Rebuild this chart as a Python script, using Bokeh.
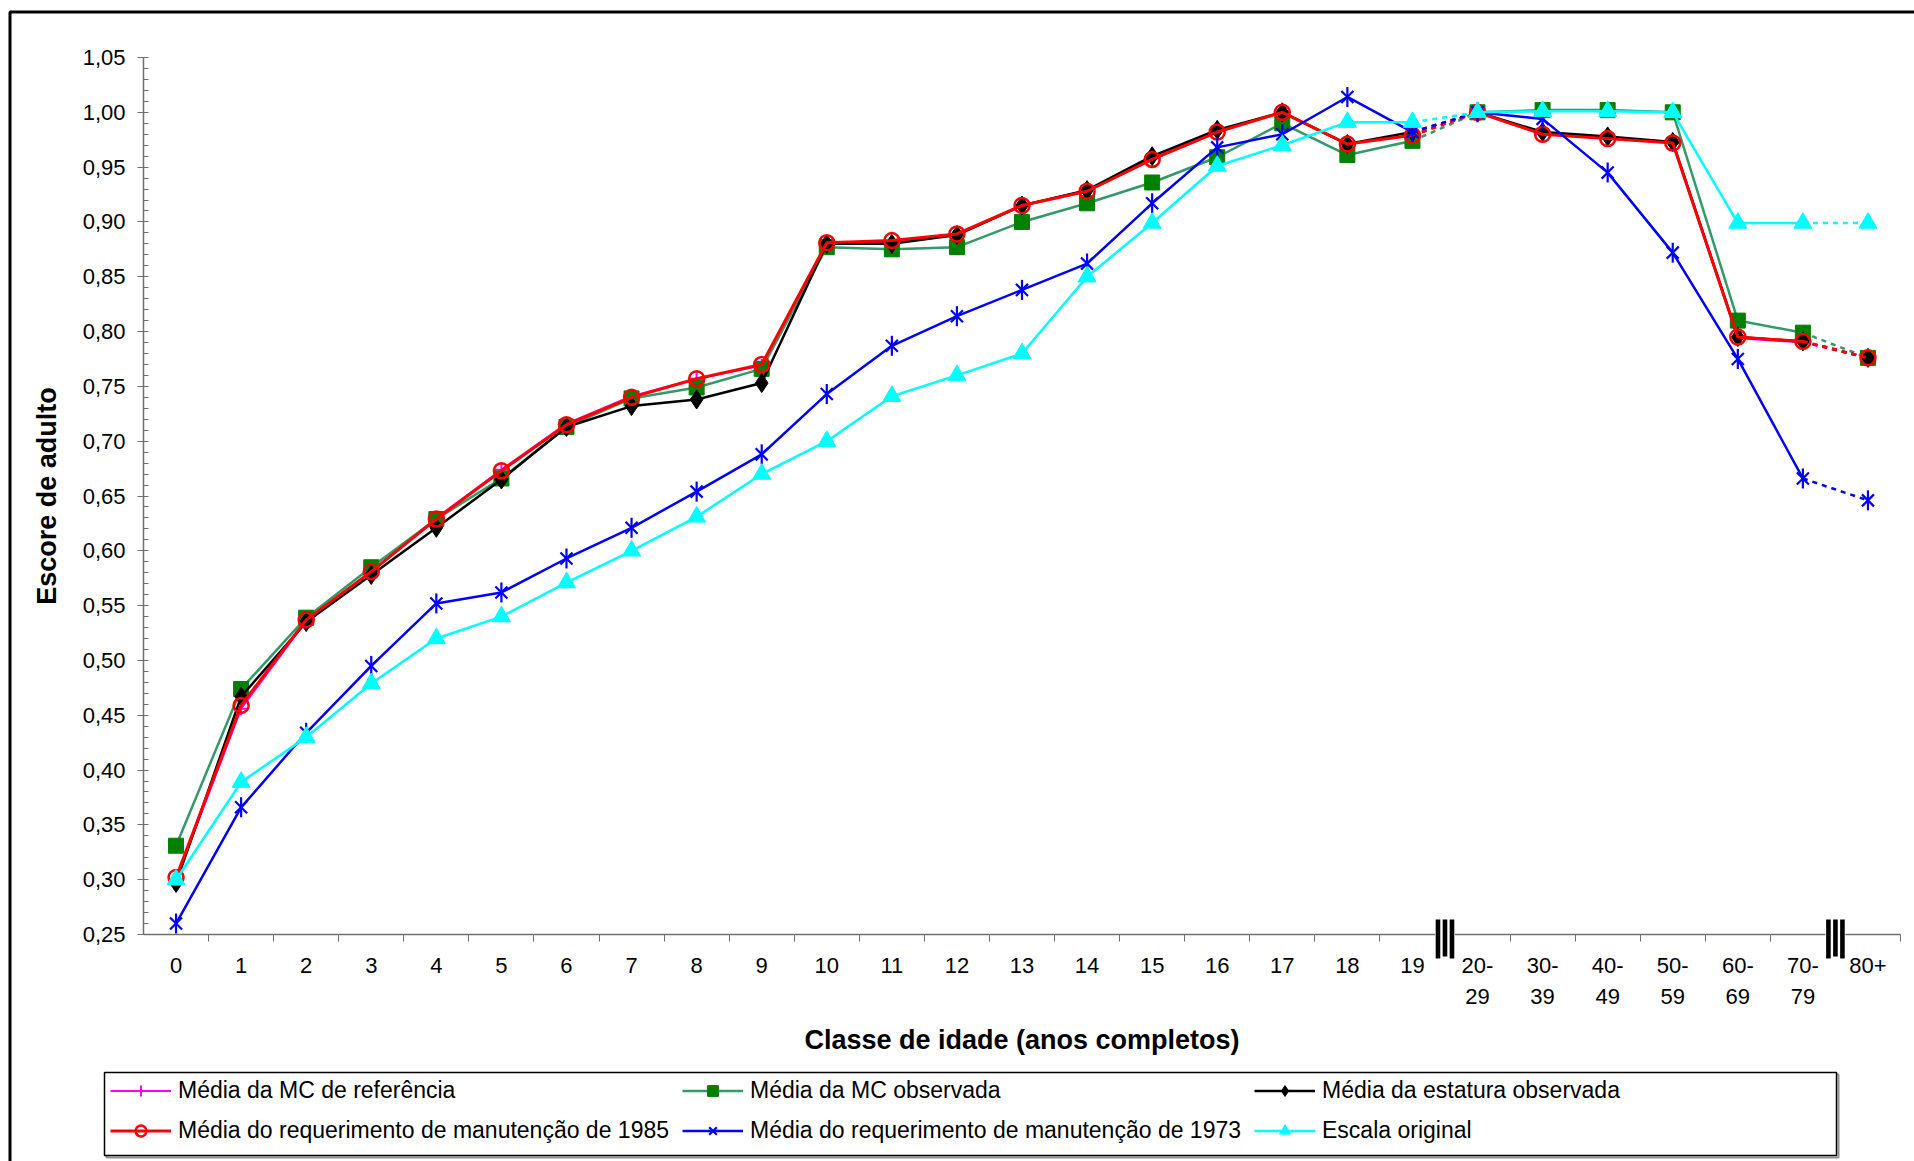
from bokeh.plotting import figure
from bokeh.models import (Range1d, FixedTicker, CustomJSTickFormatter, Legend,
                          LegendItem, BoxAnnotation)
from bokeh.embed import file_html
from bokeh.resources import INLINE
import numpy as np

# ---------------- data ----------------
x_labels = ["0", "1", "2", "3", "4", "5", "6", "7", "8", "9", "10", "11", "12",
            "13", "14", "15", "16", "17", "18", "19", "20-\n29", "30-\n39",
            "40-\n49", "50-\n59", "60-\n69", "70-\n79", "80+"]

mc_referencia = [0.300, 0.456, 0.536, 0.581, 0.630, 0.674, 0.716, 0.741, 0.757,
                 0.769, 0.880, 0.882, 0.889, 0.915, 0.929, 0.958, 0.983, 1.000,
                 0.971, 0.979, 1.000, 0.980, 0.976, 0.972, 0.794, 0.790, 0.776]
mc_observada = [0.331, 0.474, 0.539, 0.585, 0.629, 0.666, 0.713, 0.739, 0.749,
                0.766, 0.877, 0.875, 0.877, 0.900, 0.917, 0.936, 0.959, 0.990,
                0.961, 0.974, 1.000, 1.002, 1.002, 1.000, 0.810, 0.799, 0.776]
estatura_observada = [0.297, 0.467, 0.535, 0.578, 0.621, 0.665, 0.713, 0.732,
                      0.738, 0.753, 0.880, 0.880, 0.888, 0.915, 0.929, 0.960,
                      0.984, 1.000, 0.971, 0.982, 1.000, 0.982, 0.978, 0.973,
                      0.795, 0.791, 0.776]
req_1985 = [0.302, 0.459, 0.537, 0.581, 0.629, 0.673, 0.715, 0.740, 0.757,
            0.770, 0.881, 0.883, 0.889, 0.915, 0.928, 0.957, 0.982, 1.000,
            0.971, 0.979, 1.000, 0.980, 0.976, 0.972, 0.795, 0.791, 0.776]
req_1973 = [0.260, 0.366, 0.434, 0.495, 0.552, 0.562, 0.593, 0.621, 0.654,
            0.688, 0.743, 0.787, 0.814, 0.838, 0.862, 0.917, 0.968, 0.980,
            1.014, 0.982, 1.000, 0.994, 0.945, 0.872, 0.775, 0.666, 0.646]
escala_original = [0.300, 0.389, 0.430, 0.479, 0.520, 0.540, 0.571, 0.600,
                   0.631, 0.670, 0.700, 0.741, 0.760, 0.780, 0.850, 0.899,
                   0.951, 0.970, 0.991, 0.991, 1.000, 1.001, 1.001, 1.000,
                   0.899, 0.899, 0.899]

series_names = ["Média da MC de referência", "Média da MC observada",
                "Média da estatura observada",
                "Média do requerimento de manutenção de 1985",
                "Média do requerimento de manutenção de 1973",
                "Escala original"]

y_tick_labels = ["0,25", "0,30", "0,35", "0,40", "0,45", "0,50", "0,55", "0,60",
                 "0,65", "0,70", "0,75", "0,80", "0,85", "0,90", "0,95", "1,00",
                 "1,05"]

# ---------------- layout constants ----------------
W, H = 1914, 1161
FL, FR, FT, FB = 143, 1900, 57, 934          # plot area in pixels
X0, X1 = -0.5, len(x_labels) - 0.5
Y0, Y1 = 0.25, 1.05
FONT = "Liberation Sans"


def px2x(px):
    return X0 + (px - FL) * (X1 - X0) / (FR - FL)


def px2y(py):
    return Y1 - (py - FT) * (Y1 - Y0) / (FB - FT)


# the frame covers the whole canvas; axes are pinned at the plot-area edges
p = figure(width=W, height=H, output_backend="svg", toolbar_location=None,
           x_range=Range1d(px2x(0), px2x(W)), y_range=Range1d(px2y(H), px2y(0)),
           min_border_left=0, min_border_right=0,
           min_border_top=0, min_border_bottom=0)
p.outline_line_color = None
p.xgrid.visible = False
p.ygrid.visible = False
p.background_fill_color = "white"
p.border_fill_color = "white"

# ---------------- axes ----------------
AX_COL = "#707070"
y_vals = [float(s.replace(",", ".")) for s in y_tick_labels]
p.yaxis.fixed_location = X0
p.yaxis.bounds = (Y0, Y1)
p.yaxis.ticker = FixedTicker(ticks=y_vals,
                             minor_ticks=list(np.round(np.arange(0.25, 1.0501, 0.01), 2)))
p.yaxis.formatter = CustomJSTickFormatter(
    args=dict(vals=y_vals, labs=y_tick_labels),
    code="for (let i = 0; i < vals.length; i++) { if (Math.abs(vals[i] - tick) < 1e-9) return labs[i]; } return '';")
p.yaxis.axis_line_color = AX_COL
p.yaxis.axis_line_width = 1.5
p.yaxis.major_tick_line_color = AX_COL
p.yaxis.minor_tick_line_color = AX_COL
p.yaxis.major_tick_out = 6
p.yaxis.major_tick_in = 4
p.yaxis.minor_tick_out = 0
p.yaxis.minor_tick_in = 5
p.yaxis.major_label_standoff = 12
p.yaxis.major_label_text_font = FONT
p.yaxis.major_label_text_font_size = "22px"
p.yaxis.major_label_text_color = "black"
p.yaxis.axis_label = "Escore de adulto"
p.yaxis.axis_label_text_font = FONT
p.yaxis.axis_label_text_font_size = "27px"
p.yaxis.axis_label_text_font_style = "bold"
p.yaxis.axis_label_text_color = "black"
p.yaxis.axis_label_standoff = 18

n = len(x_labels)
breaks = [19.5, 25.5]
x_bounds = [i + 0.5 for i in range(n) if (i + 0.5) not in breaks]
p.xaxis.fixed_location = Y0
p.xaxis.bounds = (X0, X1)
p.xaxis.ticker = FixedTicker(ticks=list(range(n)), minor_ticks=x_bounds)
p.xaxis.formatter = CustomJSTickFormatter(args=dict(labs=x_labels),
                                          code="return labs[Math.round(tick)];")
p.xaxis.axis_line_color = AX_COL
p.xaxis.axis_line_width = 1.5
p.xaxis.major_tick_line_color = None
p.xaxis.major_tick_out = 0
p.xaxis.major_tick_in = 0
p.xaxis.minor_tick_line_color = AX_COL
p.xaxis.minor_tick_out = 7
p.xaxis.minor_tick_in = 0
p.xaxis.major_label_standoff = 11
p.xaxis.major_label_text_font = FONT
p.xaxis.major_label_text_font_size = "22px"
p.xaxis.major_label_text_color = "black"
p.xaxis.major_label_text_line_height = 1.25
p.xaxis.axis_label = "Classe de idade (anos completos)"
p.xaxis.axis_label_text_font = FONT
p.xaxis.axis_label_text_font_size = "27px"
p.xaxis.axis_label_text_font_style = "bold"
p.xaxis.axis_label_text_color = "black"
p.xaxis.axis_label_standoff = 13

# ---------------- series ----------------
xs = list(range(n))
segments = [(0, 20, None), (19, 21, "5 5"), (20, 26, None), (25, 27, "5 5")]

styles = [
    dict(data=mc_referencia, line="#FF00FF", lw=2, markers=[("cross", 13, 0)],
         fill="#FF00FF", mline="#FF00FF", mlw=2),
    dict(data=mc_observada, line="#339966", lw=2.5, markers=[("square", 15, 0)],
         fill="#008000", mline="#008000", mlw=1),
    dict(data=estatura_observada, line="black", lw=2.5, markers=[("diamond", 19, 0)],
         fill="black", mline="black", mlw=1),
    dict(data=req_1985, line="#FF0000", lw=3, markers=[("circle", 15, 0)],
         fill=None, mline="#FF0000", mlw=2.5),
    dict(data=req_1973, line="#0000FF", lw=2.5,
         markers=[("x", 17, 0), ("dash", 20, np.pi / 2)],
         fill=None, mline="#0000FF", mlw=2.2),
    dict(data=escala_original, line="#00FFFF", lw=2.5, markers=[("triangle", 18, 0)],
         fill="#00FFFF", mline="#00FFFF", mlw=1),
]

items = []
for name, st in zip(series_names, styles):
    ys = st["data"]
    rends = []
    for a, b, dash in segments:
        kw = dict(line_color=st["line"], line_width=st["lw"])
        if dash:
            kw["line_dash"] = dash
        r = p.line(xs[a:b], ys[a:b], **kw)
        if not rends:
            rends.append(r)
    for mk, sz, ang in st["markers"]:
        sc = p.scatter(xs, ys, marker=mk, size=sz, angle=ang,
                       fill_color=st["fill"], line_color=st["mline"],
                       line_width=st["mlw"])
        rends.append(sc)
    items.append(LegendItem(label=name, renderers=rends))

# ---------------- decorations ----------------
# outer chart border
p.add_layout(BoxAnnotation(left=px2x(9.5), right=px2x(W + 30), top=px2y(11.5),
                           bottom=px2y(H + 30), fill_alpha=0, line_color="black",
                           line_alpha=1, line_width=3, level="overlay"))

# axis break marks
for bx in breaks:
    cx = FL + (bx - X0) * (FR - FL) / (X1 - X0)
    p.add_layout(BoxAnnotation(left=px2x(cx - 10), right=px2x(cx + 10),
                               top=px2y(FB - 3), bottom=px2y(FB + 3),
                               fill_color="white", fill_alpha=1, line_alpha=0,
                               level="overlay"))
    for off, bot in [(-7, 24), (0, 22), (7, 24)]:
        p.add_layout(BoxAnnotation(left=px2x(cx + off - 2.3), right=px2x(cx + off + 2.3),
                                   top=px2y(FB - 15), bottom=px2y(FB + bot),
                                   fill_color="black", fill_alpha=1, line_alpha=0,
                                   level="overlay"))

# legend frame
LEG_L, LEG_T, LEG_R, LEG_B = 104, 1072, 1836, 1155
p.add_layout(BoxAnnotation(left=px2x(LEG_L + 2), right=px2x(LEG_R + 2),
                           top=px2y(LEG_T + 2), bottom=px2y(LEG_B + 2),
                           fill_alpha=0, line_color="#909090", line_alpha=1,
                           line_width=2))
p.add_layout(BoxAnnotation(left=px2x(LEG_L), right=px2x(LEG_R),
                           top=px2y(LEG_T), bottom=px2y(LEG_B),
                           fill_color="white", fill_alpha=1, line_color="black",
                           line_alpha=1, line_width=1.5))

ROW1, ROW2 = 1090, 1130
item_h = 27
legend = Legend(items=items, orientation="horizontal", nrows=2,
                location=(110, H - (ROW2 + item_h / 2)),
                border_line_color=None, background_fill_alpha=0,
                padding=0, margin=0, spacing=ROW2 - ROW1 - item_h,
                glyph_width=61, glyph_height=item_h, label_height=item_h,
                label_standoff=7, label_text_font=FONT,
                label_text_font_size="23px", label_text_color="black")
p.add_layout(legend, "center")

open("out.html", "w").write(file_html(p, INLINE))
